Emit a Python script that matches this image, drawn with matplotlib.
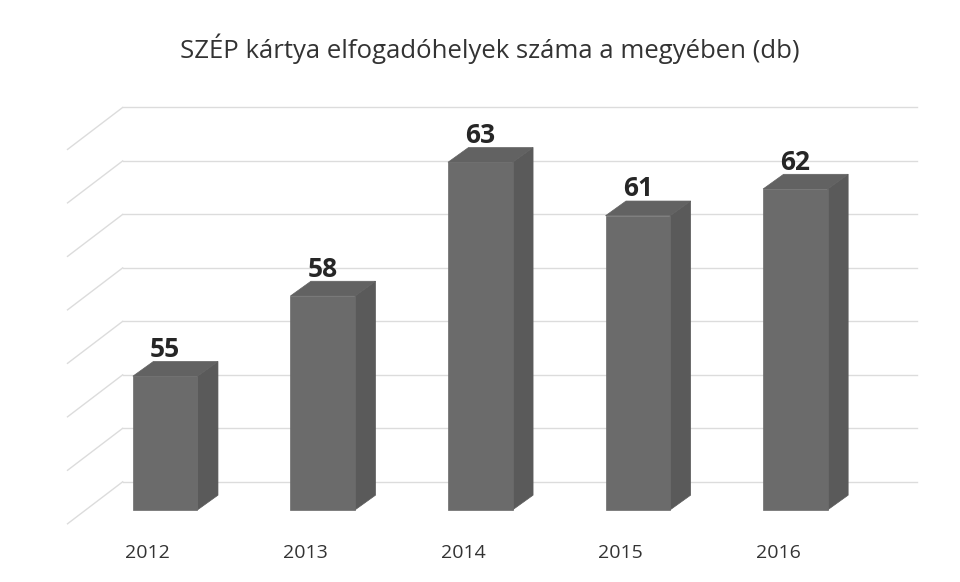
import matplotlib.pyplot as plt
from matplotlib.patches import Polygon

# Chart data
YEARS = ['2012', '2013', '2014', '2015', '2016']
COUNTS = [55, 58, 63, 61, 62]
GRID_VALUES = [50, 52, 54, 56, 58, 60, 62, 64]
BASE = 50

# Fake 3D geometry (in data units)
BAR_HALF = 0.205
DEPTH_DX, DEPTH_DY = 0.13, 0.55        # bar depth
WALL_DX, WALL_DY = 0.25, 1.05          # back wall offset behind bar fronts
SIDE_DX, SIDE_DY = -0.35, -1.57        # left side wall diagonals

FRONT = '#6b6b6b'
SIDE = '#5a5a5a'
TOP = '#626262'
GRID = '#dcdcdc'

plt.rcParams['font.family'] = ['Open Sans', 'DejaVu Sans']

fig = plt.figure(figsize=(9.6, 5.82), dpi=100)
ax = fig.add_axes([0.049, 0.055, 0.919, 0.827])
ax.set_xlim(-0.75, 4.85)
ax.set_ylim(48.5, 66.5)
ax.axis('off')

# back wall gridlines + left wall diagonals
wall_left = -0.27
wall_right = 4.77
for v in GRID_VALUES:
    y = v + WALL_DY
    ax.plot([wall_left, wall_right], [y, y], color=GRID, lw=1.0, zorder=1)
    ax.plot([wall_left, wall_left + SIDE_DX], [y, y + SIDE_DY], color=GRID, lw=1.0, zorder=1)

# bars drawn as front face, side face and top face
for i, val in enumerate(COUNTS):
    x0, x1 = i - BAR_HALF, i + BAR_HALF
    side = Polygon([(x1, BASE), (x1 + DEPTH_DX, BASE + DEPTH_DY),
                    (x1 + DEPTH_DX, val + DEPTH_DY), (x1, val)],
                   closed=True, facecolor=SIDE, edgecolor=SIDE, lw=0.5, zorder=3)
    top = Polygon([(x0, val), (x0 + DEPTH_DX, val + DEPTH_DY),
                   (x1 + DEPTH_DX, val + DEPTH_DY), (x1, val)],
                  closed=True, facecolor=TOP, edgecolor=TOP, lw=0.5, zorder=3)
    ax.add_patch(side)
    ax.add_patch(top)
    ax.bar(i, val - BASE, bottom=BASE, width=2 * BAR_HALF, color=FRONT,
           edgecolor=FRONT, lw=0.5, zorder=4)
    ax.text(i, val + DEPTH_DY - 0.05, str(val), ha='center', va='bottom',
            fontsize=19, fontweight='bold', color='#262626', zorder=5)
    ax.text(i - 0.11, BASE - 1.6, YEARS[i], ha='center', va='center',
            fontsize=14, color='#333333', zorder=5)

fig.text(0.51, 0.917, 'SZÉP kártya elfogadóhelyek száma a megyében (db)',
         ha='center', va='center', fontsize=18.5, color='#333333')

fig.savefig('out.png', dpi=100)
